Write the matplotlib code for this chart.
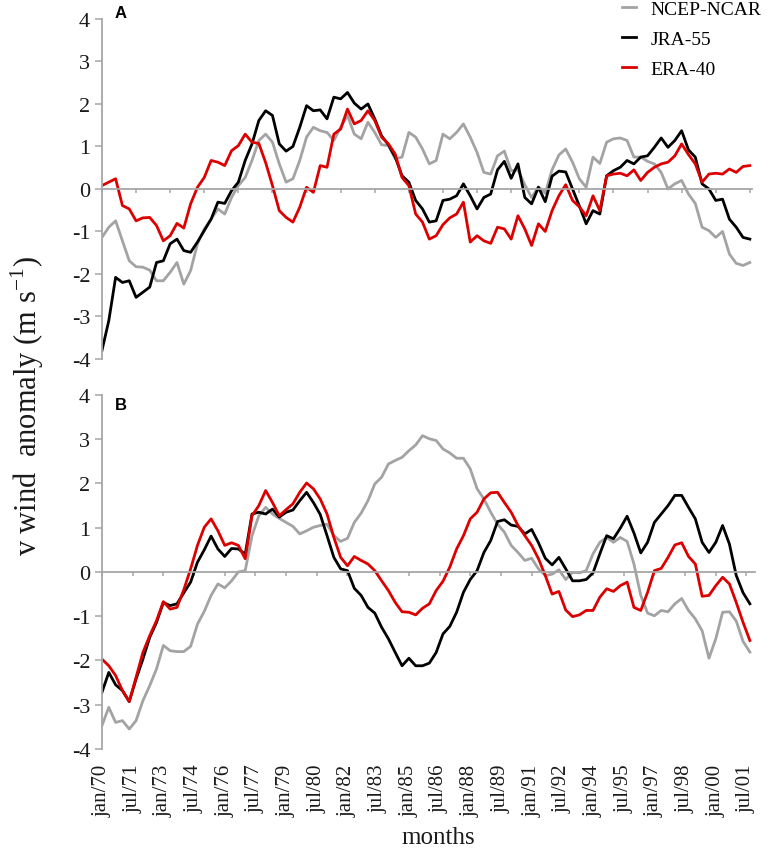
import matplotlib
matplotlib.use("Agg")
import matplotlib.pyplot as plt
import numpy as np

plt.rcParams["font.family"] = "Liberation Serif"
plt.rcParams["axes.unicode_minus"] = False

GREY, BLACK, RED, AXC = "#a3a3a3", "#000000", "#dc0000", "#a6a6a6"

# month index since jan/1970, read every 4 months
months = np.arange(0, 381, 4)

# panel A
a_ncep = [-1.14, -0.90, -0.75, -1.22, -1.69, -1.83, -1.84, -1.91, -2.16, -2.16, -1.96, -1.73,
          -2.24, -1.92, -1.29, -0.94, -0.71, -0.47, -0.59, -0.20, 0.08, 0.27, 0.67, 1.14,
          1.29, 1.10, 0.59, 0.16, 0.24, 0.67, 1.22, 1.45, 1.37, 1.33, 1.14, 1.45,
          1.73, 1.29, 1.18, 1.57, 1.33, 1.04, 1.02, 0.71, 0.75, 1.33, 1.22, 0.94,
          0.59, 0.67, 1.29, 1.18, 1.33, 1.53, 1.22, 0.86, 0.39, 0.35, 0.78, 0.89,
          0.43, 0.45, 0.10, -0.20, 0.05, -0.10, 0.45, 0.80, 0.94, 0.63, 0.24, 0.04,
          0.75, 0.60, 1.10, 1.18, 1.20, 1.14, 0.75, 0.75, 0.65, 0.59, 0.39, 0.00,
          0.12, 0.20, -0.12, -0.34, -0.90, -0.98, -1.14, -1.00, -1.53, -1.75, -1.80, -1.73]
a_jra = [-3.80, -3.10, -2.08, -2.20, -2.16, -2.55, -2.43, -2.31, -1.73, -1.69, -1.29, -1.18,
         -1.45, -1.49, -1.25, -0.98, -0.71, -0.31, -0.34, -0.04, 0.16, 0.67, 1.06, 1.61,
         1.84, 1.73, 1.06, 0.89, 1.00, 1.45, 1.96, 1.84, 1.86, 1.65, 2.16, 2.12,
         2.27, 2.02, 1.88, 2.00, 1.65, 1.25, 1.04, 0.75, 0.31, 0.16, -0.27, -0.47,
         -0.78, -0.75, -0.27, -0.24, -0.16, 0.12, -0.16, -0.47, -0.20, -0.12, 0.45, 0.65,
         0.25, 0.59, -0.20, -0.35, 0.04, -0.30, 0.30, 0.42, 0.40, 0.00, -0.40, -0.82,
         -0.51, -0.59, 0.31, 0.43, 0.51, 0.67, 0.59, 0.75, 0.78, 0.98, 1.20, 0.98,
         1.14, 1.37, 0.92, 0.75, 0.12, 0.00, -0.27, -0.24, -0.71, -0.90, -1.14, -1.18]
a_era = [0.08, 0.16, 0.24, -0.39, -0.47, -0.75, -0.68, -0.67, -0.86, -1.22, -1.10, -0.81,
         -0.92, -0.35, 0.04, 0.27, 0.67, 0.63, 0.55, 0.90, 1.02, 1.29, 1.10, 1.07,
         0.62, 0.08, -0.51, -0.67, -0.78, -0.43, 0.04, -0.08, 0.55, 0.51, 1.29, 1.41,
         1.88, 1.53, 1.61, 1.84, 1.61, 1.22, 1.06, 0.82, 0.27, 0.08, -0.59, -0.78,
         -1.18, -1.10, -0.84, -0.68, -0.59, -0.31, -1.25, -1.10, -1.22, -1.28, -0.90, -0.94,
         -1.18, -0.63, -0.94, -1.33, -0.82, -1.00, -0.51, -0.16, 0.10, -0.27, -0.42, -0.63,
         -0.16, -0.51, 0.31, 0.35, 0.37, 0.31, 0.45, 0.20, 0.39, 0.51, 0.59, 0.63,
         0.78, 1.06, 0.81, 0.59, 0.16, 0.35, 0.37, 0.35, 0.47, 0.39, 0.53, 0.55]

# panel B
b_ncep = [-3.47, -3.06, -3.40, -3.36, -3.55, -3.36, -2.91, -2.57, -2.19, -1.66, -1.78, -1.80,
          -1.80, -1.68, -1.18, -0.89, -0.53, -0.27, -0.36, -0.20, 0.00, 0.03, 0.82, 1.27,
          1.46, 1.31, 1.21, 1.12, 1.03, 0.86, 0.93, 1.01, 1.05, 1.08, 0.82, 0.69,
          0.76, 1.12, 1.33, 1.61, 1.99, 2.14, 2.44, 2.52, 2.59, 2.74, 2.87, 3.08,
          3.01, 2.97, 2.78, 2.69, 2.57, 2.57, 2.33, 1.88, 1.65, 1.35, 1.08, 0.90,
          0.60, 0.44, 0.26, 0.31, 0.07, -0.08, -0.05, 0.05, -0.17, -0.01, -0.02, 0.03,
          0.41, 0.67, 0.78, 0.67, 0.78, 0.69, 0.18, -0.53, -0.93, -0.99, -0.87, -0.90,
          -0.72, -0.60, -0.87, -1.06, -1.33, -1.95, -1.51, -0.91, -0.90, -1.11, -1.57, -1.81]
b_jra = [-2.72, -2.27, -2.55, -2.68, -2.93, -2.42, -1.97, -1.48, -1.14, -0.69, -0.76, -0.72,
         -0.47, -0.23, 0.22, 0.50, 0.81, 0.52, 0.35, 0.53, 0.52, 0.40, 1.31, 1.35,
         1.31, 1.42, 1.24, 1.35, 1.40, 1.61, 1.80, 1.57, 1.30, 0.82, 0.33, 0.07,
         0.03, -0.37, -0.53, -0.80, -0.93, -1.25, -1.51, -1.82, -2.12, -1.95, -2.12, -2.12,
         -2.06, -1.82, -1.40, -1.23, -0.91, -0.46, -0.17, 0.03, 0.44, 0.71, 1.14, 1.18,
         1.06, 1.03, 0.86, 0.96, 0.66, 0.31, 0.16, 0.33, 0.07, -0.20, -0.20, -0.17,
         -0.02, 0.41, 0.82, 0.75, 0.99, 1.26, 0.88, 0.43, 0.67, 1.12, 1.31, 1.50,
         1.73, 1.73, 1.46, 1.20, 0.67, 0.44, 0.67, 1.05, 0.63, -0.08, -0.47, -0.72]
b_era = [-1.97, -2.12, -2.34, -2.68, -2.93, -2.38, -1.82, -1.44, -1.10, -0.67, -0.84, -0.80,
         -0.40, 0.07, 0.60, 1.01, 1.20, 0.93, 0.60, 0.66, 0.60, 0.30, 1.27, 1.50,
         1.84, 1.57, 1.27, 1.41, 1.54, 1.80, 2.01, 1.88, 1.65, 1.31, 0.78, 0.33,
         0.14, 0.35, 0.26, 0.18, 0.03, -0.20, -0.42, -0.69, -0.90, -0.91, -0.97, -0.82,
         -0.72, -0.42, -0.21, 0.11, 0.52, 0.82, 1.20, 1.35, 1.65, 1.79, 1.80, 1.57,
         1.35, 1.05, 0.82, 0.60, 0.30, -0.08, -0.50, -0.44, -0.86, -1.01, -0.97, -0.87,
         -0.87, -0.57, -0.38, -0.44, -0.31, -0.23, -0.80, -0.87, -0.46, 0.03, 0.08, 0.33,
         0.61, 0.66, 0.35, 0.18, -0.55, -0.53, -0.31, -0.12, -0.27, -0.69, -1.14, -1.55]

series_names = ["NCEP-NCAR", "JRA-55", "ERA-40"]
series_colors = [GREY, BLACK, RED]

a_ticks = np.arange(0, 381, 20)
b_ticks = np.arange(0, 379, 18)
b_labels = ["jan/70", "jul/71", "jan/73", "jul/74", "jan/76", "jul/77", "jan/79", "jul/80",
            "jan/82", "jul/83", "jan/85", "jul/86", "jan/88", "jul/89", "jan/91", "jul/92",
            "jan/94", "jul/95", "jan/97", "jul/98", "jan/00", "jul/01"]
yticks = [-4, -3, -2, -1, 0, 1, 2, 3, 4]

fig = plt.figure(figsize=(7.69, 8.53), dpi=100)
axA = fig.add_axes([0.1326, 0.578, 0.8447, 0.3986])
axB = fig.add_axes([0.1326, 0.1208, 0.8492, 0.415])


def style(ax, xmax, xt):
    ax.set_xlim(0, xmax)
    ax.set_ylim(-4, 4)
    for s in ("top", "right"):
        ax.spines[s].set_visible(False)
    ax.spines["bottom"].set_position(("data", 0))
    ax.spines["bottom"].set_color(AXC)
    ax.spines["left"].set_color(AXC)
    ax.spines["bottom"].set_linewidth(1.3)
    ax.spines["left"].set_linewidth(1.3)
    ax.set_xticks(xt)
    ax.set_yticks(yticks)
    ax.tick_params(axis="x", direction="out", length=3.2, width=1.1, color=AXC, labelbottom=False)
    ax.tick_params(axis="y", direction="out", length=5, width=1.1, color=AXC, pad=3.5,
                   labelsize=16, labelcolor="#1a1a1a")


lines = []
for ax, data in ((axA, (a_ncep, a_jra, a_era)), (axB, (b_ncep, b_jra, b_era))):
    for vals, name, col in zip(data, series_names, series_colors):
        ln, = ax.plot(months, vals, color=col, lw=2.0, label=name, solid_joinstyle="round")
        if ax is axA:
            lines.append(ln)

style(axA, 381, a_ticks)
style(axB, 383, b_ticks)

# month labels under panel B
sec = axB.secondary_xaxis("bottom")
sec.set_xticks(b_ticks, labels=b_labels, rotation=90, fontsize=15, color="#1a1a1a")
sec.tick_params(axis="x", length=0, pad=10.5)
sec.spines["bottom"].set_visible(False)

fig.text(121 / 769, 1 - 13 / 853, "A", family="Liberation Sans", fontweight="bold",
         fontsize=12, ha="center", va="center")
fig.text(121 / 769, 1 - 406 / 853, "B", family="Liberation Sans", fontweight="bold",
         fontsize=12, ha="center", va="center")

fig.text(0.035, 1 - 406 / 853, "v wind  anomaly (m s$^{\\mathregular{-1}}$)", rotation=90,
         fontsize=22, ha="center", va="center", color="#1a1a1a")
fig.text(438 / 769, 1 - 838 / 853, "months", fontsize=18, ha="center", va="center",
         color="#1a1a1a")

fig.legend(handles=lines, loc="upper left", bbox_to_anchor=(622 / 769, 1 - 1 / 853),
           frameon=False, fontsize=14, handlelength=0.7, handletextpad=0.75,
           labelspacing=0.65, borderpad=0, borderaxespad=0)

fig.savefig("out.png", dpi=100)
